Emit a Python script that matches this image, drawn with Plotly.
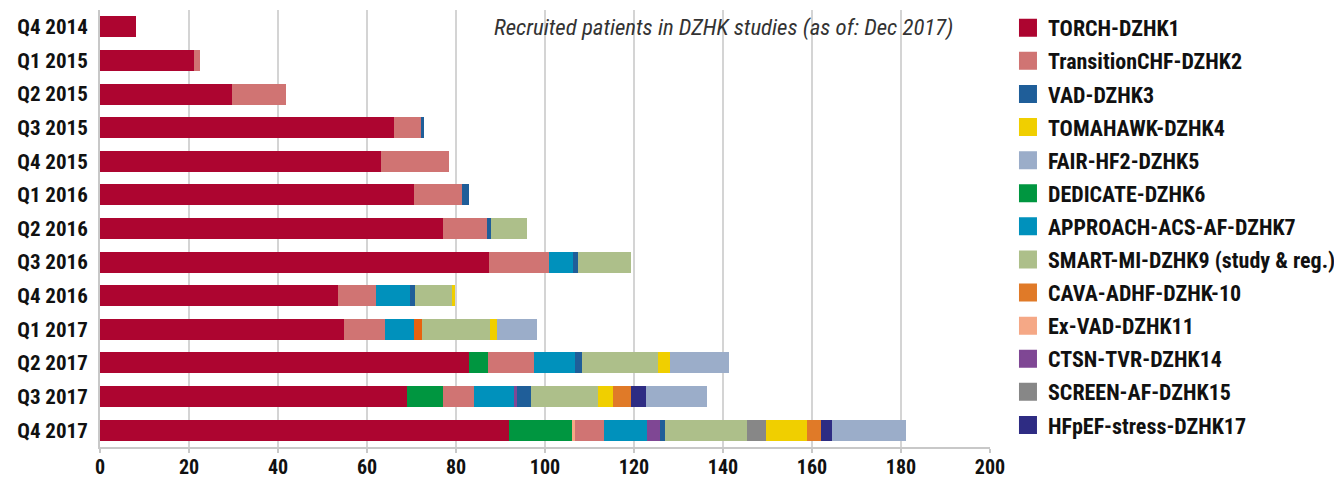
import plotly.graph_objects as go

quarters = ["Q4 2014", "Q1 2015", "Q2 2015", "Q3 2015", "Q4 2015", "Q1 2016", "Q2 2016",
            "Q3 2016", "Q4 2016", "Q1 2017", "Q2 2017", "Q3 2017", "Q4 2017"]

# recruited patients per study and quarter
torch = [8.1, 21.1, 29.7, 66.1, 63.1, 70.5, 77.1, 87.4, 53.5, 54.9, 82.9, 69.0, 91.9]
transition = [0, 1.4, 12.1, 6.0, 15.4, 10.9, 9.9, 13.6, 8.5, 9.1, 10.3, 6.9, 6.5]
vad = [0, 0, 0, 0.7, 0, 1.6, 0.9, 1.1, 1.2, 0, 1.6, 3.1, 1.1]
tomahawk = [0, 0, 0, 0, 0, 0, 0, 0, 0.7, 1.5, 2.7, 3.3, 9.2]
fair = [0, 0, 0, 0, 0, 0, 0, 0, 0, 9.0, 13.1, 13.7, 16.6]
dedicate = [0, 0, 0, 0, 0, 0, 0, 0, 0, 0, 4.3, 8.1, 14.1]
approach = [0, 0, 0, 0, 0, 0, 0, 5.4, 7.6, 6.5, 9.2, 9.0, 9.7]
smart = [0, 0, 0, 0, 0, 0, 8.0, 11.8, 8.3, 15.3, 17.2, 15.1, 18.4]
cava = [0, 0, 0, 0, 0, 0, 0, 0, 0, 1.9, 0, 4.1, 3.3]
ex_vad = [0, 0, 0, 0, 0, 0, 0, 0, 0, 0, 0, 0, 0.7]
ctsn = [0, 0, 0, 0, 0, 0, 0, 0, 0, 0, 0, 0.7, 2.9]
screen = [0, 0, 0, 0, 0, 0, 0, 0, 0, 0, 0, 0, 4.3]
hfpef = [0, 0, 0, 0, 0, 0, 0, 0, 0, 0, 0, 3.3, 2.5]

# Q1 2017 shows CAVA right after APPROACH, later quarters put it after TOMAHAWK
cava_q1_2017 = [v if q == "Q1 2017" else 0 for q, v in zip(quarters, cava)]
cava_rest = [0 if q == "Q1 2017" else v for q, v in zip(quarters, cava)]

studies = {
    "TORCH-DZHK1": (torch, "#ad0530"),
    "TransitionCHF-DZHK2": (transition, "#d07473"),
    "VAD-DZHK3": (vad, "#1f5e99"),
    "TOMAHAWK-DZHK4": (tomahawk, "#f0cf00"),
    "FAIR-HF2-DZHK5": (fair, "#9badc9"),
    "DEDICATE-DZHK6": (dedicate, "#009640"),
    "APPROACH-ACS-AF-DZHK7": (approach, "#0091bc"),
    "SMART-MI-DZHK9 (study & reg.)": (smart, "#adbf8a"),
    "CAVA-ADHF-DZHK-10": (cava_rest, "#e07a28"),
    "Ex-VAD-DZHK11": (ex_vad, "#f5a886"),
    "CTSN-TVR-DZHK14": (ctsn, "#7f4794"),
    "SCREEN-AF-DZHK15": (screen, "#878787"),
    "HFpEF-stress-DZHK17": (hfpef, "#2e2c83"),
}

# order in which segments are stacked from left to right
stack_order = ["TORCH-DZHK1", "DEDICATE-DZHK6", "Ex-VAD-DZHK11", "TransitionCHF-DZHK2",
               "APPROACH-ACS-AF-DZHK7", "CAVA-early", "CTSN-TVR-DZHK14", "VAD-DZHK3",
               "SMART-MI-DZHK9 (study & reg.)", "SCREEN-AF-DZHK15", "TOMAHAWK-DZHK4",
               "CAVA-ADHF-DZHK-10", "HFpEF-stress-DZHK17", "FAIR-HF2-DZHK5"]

FONT = "Roboto Condensed, Liberation Sans Narrow, sans-serif"

fig = go.Figure()
for name in stack_order:
    if name == "CAVA-early":
        vals, color = cava_q1_2017, "#e8620f"
    else:
        vals, color = studies[name]
    fig.add_trace(go.Bar(y=quarters, x=vals, orientation="h", name=name,
                         marker=dict(color=color, line=dict(width=0)),
                         showlegend=False))

# legend entries with bigger square swatches
for name, (vals, color) in studies.items():
    fig.add_trace(go.Scatter(x=[None], y=[None], mode="markers", name=name, legendgroup=name,
                             marker=dict(symbol="square", size=16, color=color,
                                         line=dict(color=color, width=2))))

# the page body adds an 8px offset, so the figure is a bit smaller than the window
fig.update_layout(
    width=1334, height=469,
    barmode="stack", bargap=0.375,
    plot_bgcolor="white", paper_bgcolor="white",
    margin=dict(l=92, r=352, t=2, b=30, autoexpand=False),
    font=dict(family=FONT, size=20, color="#111111"),
    legend=dict(x=1.0202, xanchor="left", y=1.007, yanchor="top", traceorder="grouped",
                font=dict(family=FONT, size=22, color="#111111", weight="bold"),
                tracegroupgap=1.5, itemclick=False, maxheight=1.0),
    annotations=[dict(text="<i>Recruited patients in DZHK studies (as of: Dec 2017)</i>",
                      xref="paper", yref="paper", x=0.7006, y=0.961, xanchor="center",
                      yanchor="middle", showarrow=False,
                      font=dict(family=FONT, size=22.8, color="#333333"))],
)
fig.update_xaxes(range=[0, 200], dtick=20, showgrid=True, gridcolor="#d4d4d4", gridwidth=2,
                 zeroline=False, showline=True, linecolor="#c8c8c8", linewidth=2,
                 ticks="outside", ticklen=4, tickcolor="#c8c8c8", tickwidth=2,
                 ticklabelstandoff=-3,
                 tickfont=dict(family=FONT, size=20, color="#111111", weight="bold"))
fig.update_yaxes(categoryorder="array", categoryarray=quarters, autorange="reversed",
                 showline=True, linecolor="#c8c8c8", linewidth=2, ticks="",
                 ticklabelstandoff=6,
                 tickfont=dict(family=FONT, size=21, color="#111111", weight="bold"))

fig.write_html("out.html")
